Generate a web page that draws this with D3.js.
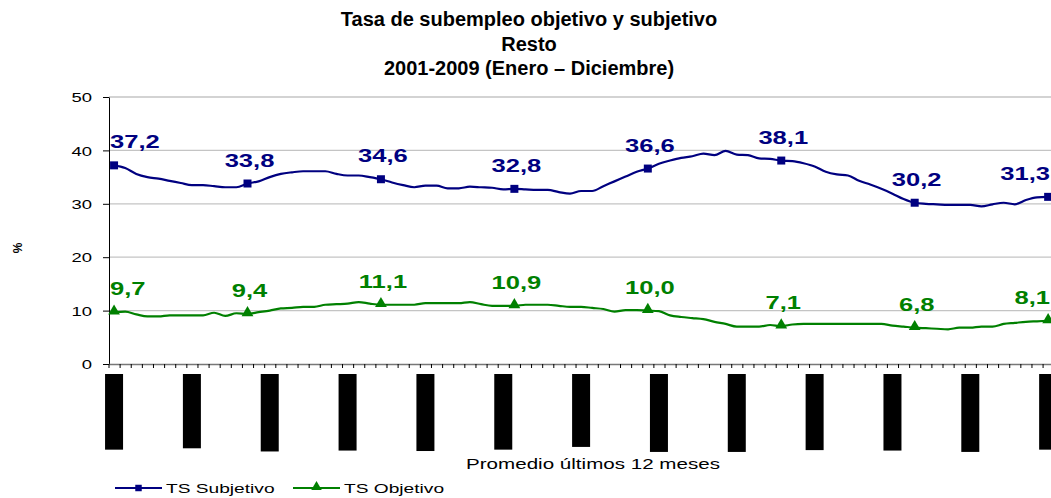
<!DOCTYPE html>
<html><head><meta charset="utf-8">
<script src="https://cdn.jsdelivr.net/npm/d3@7"></script>
<style>body{margin:0;background:#fff}svg{display:block}</style>
</head><body>
<script>
const titleLines = ["Tasa de subempleo objetivo y subjetivo", "Resto", "2001-2009 (Enero – Diciembre)"];
const months = ["Ene","Feb","Mar","Abr","May","Jun","Jul","Ago","Sep","Oct","Nov","Dic"];
const firstYear = 2001;
const nWindows = 85;
const categories = d3.range(nWindows).map(i => {
  const s = i, e = i + 11;
  return months[s % 12] + " " + (firstYear + Math.floor(s / 12)) + " - " + months[e % 12] + " " + (firstYear + Math.floor(e / 12));
});
const subjetivo = [37.2,36.7,35.6,35.0,34.7,34.3,33.9,33.5,33.5,33.3,33.1,33.1,
  33.8,34.2,35.0,35.6,35.9,36.1,36.1,36.1,35.6,35.3,35.3,35.0,
  34.6,34.0,33.5,33.1,33.4,33.4,32.9,32.9,33.2,33.1,33.0,32.7,
  32.8,32.7,32.6,32.6,32.2,31.9,32.4,32.4,33.3,34.2,35.1,36.0,
  36.6,37.5,38.1,38.6,38.9,39.4,39.1,39.9,39.2,39.1,38.5,38.4,
  38.1,38.0,37.6,37.0,36.0,35.5,35.3,34.3,33.6,32.8,31.9,30.9,
  30.2,30.0,29.9,29.8,29.8,29.8,29.5,29.9,30.2,29.9,30.7,31.2,
  31.3];
const objetivo = [9.7,9.8,9.3,8.9,8.9,9.1,9.1,9.1,9.1,9.6,9.0,9.5,
  9.4,9.7,10.0,10.4,10.5,10.7,10.7,11.1,11.2,11.3,11.6,11.3,
  11.1,11.1,11.1,11.1,11.4,11.4,11.4,11.4,11.6,11.2,10.9,10.9,
  10.9,11.1,11.1,11.1,10.9,10.7,10.7,10.5,10.3,9.8,10.1,10.1,
  10.0,9.9,9.1,8.8,8.6,8.4,7.9,7.5,7.0,7.0,7.0,7.3,
  7.1,7.4,7.5,7.5,7.5,7.5,7.5,7.5,7.5,7.5,7.2,7.0,
  6.8,6.7,6.6,6.5,6.8,6.8,7.0,7.0,7.5,7.7,7.9,8.0,
  8.1];
const markerIdx = [0,12,24,36,48,60,72,84];
const yTicks = [0,10,20,30,40,50];
const labelEvery = 7;
const seriesNames = ["TS Subjetivo", "TS Objetivo"];
const yAxisTitle = "%";
const xAxisTitle = "Promedio últimos 12 meses";

const W = 1051, H = 498;
const colors = ["#000080", "#008000"];
const svg = d3.select("body").append("svg").attr("width", W).attr("height", H);
const SX = 1.42;
const fam = "'Liberation Sans', Arial, sans-serif";

// title
svg.append("g").selectAll("text").data(titleLines).join("text")
  .attr("x", 529).attr("y", (d, i) => 26 + i * 24.5)
  .attr("text-anchor", "middle").attr("font-family", fam)
  .attr("font-weight", "bold").attr("font-size", 20).attr("fill", "#000")
  .text(d => d);

const x = d3.scaleBand().domain(categories).range([108.5, 108.5 + nWindows * 11.12]).padding(0);
const cx = c => x(c) + x.bandwidth() / 2;
const y = d3.scaleLinear().domain([0, 50]).range([364, 97]);

// gridlines
svg.append("g").selectAll("line").data(yTicks.filter(t => t > 0)).join("line")
  .attr("x1", 109).attr("x2", W).attr("y1", d => y(d)).attr("y2", d => y(d))
  .attr("stroke", "#c4c4c4").attr("stroke-width", 1.3);

// y axis
const ya = svg.append("g").attr("transform", "translate(109,0)")
  .call(d3.axisLeft(y).tickValues(yTicks).tickSize(6).tickSizeOuter(0).tickFormat(d => d));
ya.select(".domain").attr("stroke", "#000");
ya.selectAll(".tick line").attr("stroke", "#000");
ya.selectAll(".tick text").attr("x", 0).attr("dy", "0.36em")
  .attr("transform", `translate(-17,0) scale(${SX},1)`)
  .attr("font-family", fam).attr("font-size", 13).attr("fill", "#000");

// x axis (ticks between categories)
const xb = d3.scaleLinear().domain([0, nWindows]).range(x.range());
const xa = svg.append("g").attr("transform", "translate(0,364)")
  .call(d3.axisBottom(xb).tickValues(d3.range(0, nWindows + 1)).tickSize(4).tickSizeOuter(0).tickFormat(""));
xa.select(".domain").attr("stroke", "#777").attr("stroke-width", 1.3);
xa.selectAll(".tick line").attr("stroke", "#000");

// x tick labels (rendered as black blocks)
const lab = svg.append("g").selectAll("g").data(categories.filter((c, i) => i % labelEvery === 0)).join("g")
  .attr("transform", d => `translate(${cx(d)},374)`);
lab.each(function(d) {
  const g = d3.select(this);
  const t = g.append("text").attr("transform", "rotate(-90)").attr("text-anchor", "end")
    .attr("dy", 1).attr("font-family", fam).attr("font-size", 8.2).attr("fill", "#000").text(d);
  const len = t.node().getComputedTextLength();
  g.insert("rect", "text").attr("x", -9).attr("y", 0).attr("width", 18).attr("height", len + 1).attr("fill", "#000");
});

// axis titles
svg.append("text").attr("transform", "translate(22,248) rotate(-90)").attr("text-anchor", "middle")
  .attr("font-family", fam).attr("font-weight", "bold").attr("font-size", 12).text(yAxisTitle);
svg.append("text").attr("transform", `translate(593,469) scale(${SX},1)`).attr("text-anchor", "middle")
  .attr("font-family", fam).attr("font-size", 14.5).text(xAxisTitle);

// lines
const series = [subjetivo, objetivo];
const line = d3.line().x((d, i) => cx(categories[i])).y(d => y(d)).curve(d3.curveMonotoneX);
series.forEach((s, k) => {
  svg.append("path").datum(s).attr("d", line).attr("fill", "none")
    .attr("stroke", colors[k]).attr("stroke-width", 2.2);
});

// markers
const sq = d3.symbol().type(d3.symbolSquare).size(64);
const tri = d3.symbol().type(d3.symbolTriangle).size(60);
series.forEach((s, k) => {
  svg.append("g").selectAll("path").data(markerIdx).join("path")
    .attr("transform", i => `translate(${cx(categories[i])},${y(s[i]) + (k === 1 ? -1 : 0)})`)
    .attr("d", k === 0 ? sq : tri).attr("fill", colors[k]);
});

// data labels
const fmt = v => v.toFixed(1).replace(".", ",");
series.forEach((s, k) => {
  svg.append("g").selectAll("text").data(markerIdx).join("text")
    .attr("transform", (i, j) => {
      let px = cx(categories[i]);
      if (j === 0) px = 110; else if (j === markerIdx.length - 1) px = 1050; else px += 2;
      return `translate(${px},${y(s[i]) - 17}) scale(${SX},1)`;
    })
    .attr("text-anchor", (i, j) => j === 0 ? "start" : (j === markerIdx.length - 1 ? "end" : "middle"))
    .attr("font-family", fam).attr("font-weight", "bold").attr("font-size", 18)
    .attr("fill", colors[k]).text(i => fmt(s[i]));
});

// legend
const leg = [[115, 162, 166], [293, 340, 344]];
seriesNames.forEach((n, k) => {
  const [a, b, t] = leg[k];
  svg.append("line").attr("x1", a).attr("x2", b).attr("y1", 488).attr("y2", 488)
    .attr("stroke", colors[k]).attr("stroke-width", 2.2);
  svg.append("path").attr("transform", `translate(${(a + b) / 2},${488 - (k ? 1 : 0)})`)
    .attr("d", (k === 0 ? d3.symbol().type(d3.symbolSquare).size(42) : d3.symbol().type(d3.symbolTriangle).size(48))())
    .attr("fill", colors[k]);
  svg.append("text").attr("transform", `translate(${t},493) scale(${SX},1)`)
    .attr("font-family", fam).attr("font-size", 13.5).text(n);
});
</script>
</body></html>
